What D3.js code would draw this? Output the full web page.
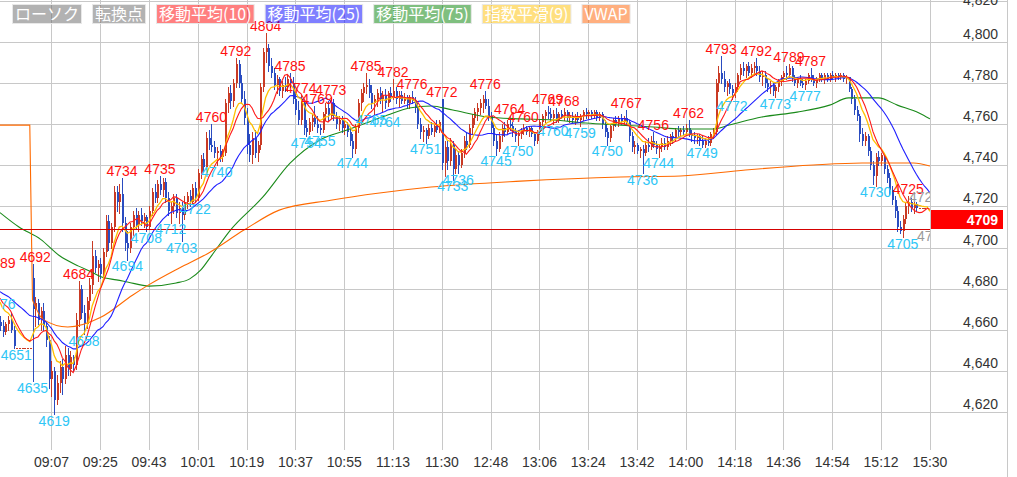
<!DOCTYPE html>
<html><head><meta charset="utf-8">
<script src="https://cdn.jsdelivr.net/npm/d3@7"></script>
<style>
body{margin:0;background:#fff;}
svg{display:block;font-family:"Liberation Sans",Arial,sans-serif;}
</style>
</head><body>
<svg id="chart" width="1017" height="477"></svg>
<script>
// ---------------- DATA ----------------
const timeTickIdx = [7,25,43,61,79,97,115,133,151,169,187,205,223,241,259,277,295,313,331];
const timeLabels = ["09:07","09:25","09:43","10:01","10:19","10:37","10:55","11:13","11:30","12:48","13:06","13:24","13:42","14:00","14:18","14:36","14:54","15:12","15:30"];
const priceTicks = [4620,4640,4660,4680,4700,4720,4740,4760,4780,4800,4820];
const lastPrice = 4709;
const firstIndex = -12;

// closes before the left edge (only feed the moving averages; estimated from the averages' level at the edge)
const prevHiddenCloses = [4684,4682,4680,4683,4686,4684,4681,4679,4677,4680,4683,4681,4678,4676,4679,4682,4680,4677,4675,4678,4681,4679,4676,4674,4672];

// previous session tail [open, high, low, close]
const prevDay = [
[4664,4667,4660,4662],[4662,4665,4657,4659],[4659,4664,4658,4663],[4663,4667,4660,4665],
[4665,4668,4659,4660],[4660,4662,4651,4652],[4651,4651,4651,4651],[4651,4651,4651,4651],
[4651,4651,4651,4651],[4651,4651,4651,4651],[4651,4651,4651,4651],[4651,4651,4651,4651]];

// morning session 09:00-11:30, one-minute candles
const morning = [
[4685,4692,4635,4670],[4670,4676,4662,4673],[4673,4675,4663,4665],[4665,4671,4660,4669],[4669,4673,4660,4662],
[4662,4664,4652,4655],[4655,4657,4632,4636],[4636,4645,4628,4640],[4640,4642,4619,4626],[4626,4638,4624,4634],
[4634,4645,4630,4642],[4642,4646,4629,4636],[4636,4652,4634,4648],[4648,4651,4638,4641],[4641,4650,4638,4647],
[4647,4648,4640,4643],[4643,4668,4641,4665],[4665,4684,4662,4680],[4680,4682,4666,4668],[4668,4672,4658,4663],
[4663,4676,4661,4674],[4674,4685,4670,4682],[4682,4703,4678,4696],[4696,4699,4688,4690],[4690,4694,4684,4692],
[4692,4695,4685,4687],[4687,4700,4686,4698],[4698,4716,4696,4713],[4713,4716,4699,4702],[4702,4712,4700,4710],
[4710,4730,4708,4727],[4727,4730,4718,4722],[4722,4731,4717,4726],[4726,4734,4708,4712],[4712,4715,4699,4702],
[4702,4708,4694,4700],[4700,4712,4698,4710],[4710,4718,4706,4716],[4716,4719,4709,4711],[4711,4718,4708,4716],
[4716,4719,4711,4713],[4713,4717,4710,4715],[4715,4716,4708,4710],[4710,4720,4709,4718],[4718,4729,4716,4727],
[4727,4731,4722,4724],[4724,4733,4722,4731],[4731,4735,4726,4728],[4728,4734,4725,4732],[4732,4734,4722,4724],
[4724,4727,4716,4718],[4718,4722,4712,4720],[4720,4726,4717,4724],[4724,4726,4715,4717],[4717,4722,4712,4719],
[4719,4722,4703,4716],[4716,4725,4714,4722],[4722,4727,4719,4725],[4725,4728,4720,4722],[4722,4731,4721,4729],
[4729,4732,4722,4724],[4724,4738,4723,4736],[4736,4745,4734,4743],[4743,4746,4737,4739],[4739,4756,4738,4753],
[4753,4757,4748,4750],[4750,4760,4747,4749],[4749,4752,4744,4746],[4746,4749,4740,4747],[4747,4750,4742,4744],
[4744,4748,4742,4746],[4746,4772,4745,4770],[4770,4778,4766,4775],[4775,4779,4768,4771],[4771,4782,4769,4780],
[4780,4792,4778,4789],[4789,4791,4778,4780],[4780,4784,4770,4772],[4772,4776,4760,4763],[4763,4768,4746,4750],
[4750,4755,4742,4745],[4745,4756,4741,4753],[4753,4757,4744,4746],[4746,4752,4742,4750],[4750,4780,4748,4778],
[4778,4797,4776,4795],[4795,4804,4790,4797],[4797,4799,4786,4788],[4788,4792,4783,4785],[4785,4787,4777,4779],
[4779,4784,4775,4782],[4782,4783,4774,4776],[4776,4781,4773,4779],[4779,4783,4776,4778],[4778,4784,4776,4782],
[4782,4785,4778,4780],[4780,4783,4770,4772],[4772,4775,4765,4767],[4767,4771,4760,4762],[4762,4774,4760,4770],
[4770,4771,4755,4758],[4758,4762,4754,4756],[4756,4763,4755,4761],[4761,4765,4757,4763],[4763,4769,4759,4760],
[4760,4764,4756,4758],[4758,4760,4755,4757],[4757,4766,4756,4765],[4765,4770,4762,4768],[4768,4771,4762,4764],
[4764,4773,4763,4770],[4770,4772,4762,4764],[4764,4766,4758,4760],[4760,4764,4757,4762],[4762,4764,4756,4758],
[4758,4762,4755,4760],[4760,4761,4754,4756],[4756,4758,4750,4752],[4752,4755,4744,4748],[4748,4760,4746,4758],
[4758,4772,4756,4770],[4770,4777,4767,4775],[4775,4780,4771,4778],[4778,4785,4775,4779],[4779,4782,4773,4775],
[4775,4779,4768,4770],[4770,4774,4765,4772],[4772,4777,4769,4775],[4775,4778,4770,4772],[4772,4776,4766,4774],
[4774,4777,4768,4770],[4770,4776,4769,4775],[4775,4778,4771,4773],[4773,4782,4772,4776],[4776,4778,4770,4772],
[4772,4776,4769,4774],[4774,4776,4770,4771],[4771,4775,4770,4773],[4773,4774,4768,4770],[4770,4774,4768,4773],
[4773,4776,4770,4771],[4771,4773,4766,4768],[4768,4770,4758,4760],[4760,4763,4753,4756],[4756,4759,4752,4757],
[4757,4758,4751,4754],[4754,4760,4753,4758],[4758,4761,4755,4756],[4756,4760,4754,4759],[4759,4762,4756,4757],
[4757,4762,4756,4761]];

// afternoon session 12:30-15:30
const afternoon = [
[4772,4772,4738,4741],[4741,4752,4735,4749],[4749,4752,4738,4742],[4742,4753,4740,4750],[4750,4752,4733,4738],
[4738,4748,4736,4745],[4745,4747,4736,4740],[4740,4748,4739,4746],[4746,4754,4744,4752],[4752,4756,4748,4750],
[4750,4760,4749,4758],[4758,4765,4755,4763],[4763,4768,4760,4766],[4766,4770,4762,4768],[4768,4772,4765,4770],
[4770,4774,4766,4772],[4772,4776,4768,4769],[4769,4772,4762,4764],[4764,4766,4756,4758],[4758,4760,4750,4752],
[4752,4755,4745,4748],[4748,4756,4747,4754],[4754,4760,4752,4758],[4758,4761,4754,4756],[4756,4762,4755,4760],
[4760,4764,4757,4759],[4759,4761,4754,4756],[4756,4758,4752,4754],[4754,4757,4750,4755],[4755,4758,4753,4757],
[4757,4760,4755,4758],[4758,4759,4755,4756],[4756,4759,4754,4758],[4758,4759,4754,4755],[4755,4756,4750,4752],
[4752,4757,4751,4756],[4756,4762,4755,4761],[4761,4765,4759,4764],[4764,4767,4761,4766],[4766,4769,4763,4765],
[4765,4768,4762,4763],[4763,4767,4760,4765],[4765,4768,4761,4762],[4762,4766,4761,4765],[4765,4767,4763,4764],
[4764,4768,4762,4766],[4766,4767,4762,4763],[4763,4766,4761,4764],[4764,4766,4761,4762],[4762,4765,4760,4764],
[4764,4766,4761,4762],[4762,4765,4759,4764],[4764,4767,4762,4766],[4766,4768,4763,4765],[4765,4767,4763,4766],
[4766,4767,4763,4764],[4764,4767,4763,4766],[4766,4767,4762,4763],[4763,4766,4762,4765],[4765,4766,4758,4760],
[4760,4762,4754,4756],[4756,4758,4750,4753],[4753,4760,4752,4759],[4759,4763,4757,4762],[4762,4764,4759,4760],
[4760,4764,4759,4763],[4763,4765,4760,4761],[4761,4764,4760,4763],[4763,4767,4760,4761],[4761,4762,4752,4754],
[4754,4756,4747,4749],[4749,4752,4746,4750],[4750,4751,4746,4747],[4747,4749,4744,4748],[4748,4750,4736,4746],
[4746,4752,4745,4750],[4750,4753,4747,4749],[4749,4754,4748,4752],[4752,4756,4749,4750],[4750,4752,4746,4748],
[4748,4750,4744,4749],[4749,4753,4747,4751],[4751,4753,4748,4749],[4749,4754,4748,4752],[4752,4755,4750,4754],
[4754,4756,4751,4753],[4753,4758,4752,4757],[4757,4759,4754,4756],[4756,4758,4754,4757],[4757,4759,4755,4756],
[4756,4760,4755,4758],[4758,4762,4754,4755],[4755,4757,4752,4754],[4754,4756,4751,4753],[4753,4755,4751,4754],
[4754,4755,4750,4752],[4752,4754,4749,4750],[4750,4753,4749,4752],[4752,4754,4750,4751],[4751,4756,4750,4755],
[4755,4758,4753,4756],[4756,4782,4755,4780],[4780,4788,4776,4785],[4785,4793,4780,4782],[4782,4786,4776,4778],
[4778,4781,4774,4780],[4780,4782,4775,4777],[4777,4779,4772,4775],[4775,4780,4773,4778],[4778,4785,4776,4784],
[4784,4789,4782,4787],[4787,4790,4784,4786],[4786,4789,4783,4788],[4788,4790,4784,4785],[4785,4789,4783,4787],
[4787,4790,4785,4788],[4788,4792,4784,4786],[4786,4788,4781,4783],[4783,4786,4779,4784],[4784,4786,4778,4780],
[4780,4782,4776,4778],[4778,4781,4775,4779],[4779,4780,4774,4776],[4776,4779,4773,4778],[4778,4782,4776,4781],
[4781,4784,4779,4783],[4783,4786,4781,4785],[4785,4788,4782,4784],[4784,4789,4783,4787],[4787,4788,4781,4782],
[4782,4784,4779,4780],[4780,4783,4778,4782],[4782,4784,4779,4780],[4780,4782,4778,4779],[4779,4782,4777,4781],
[4781,4785,4780,4784],[4784,4787,4781,4782],[4782,4784,4779,4780],[4780,4783,4778,4782],[4782,4785,4781,4784],
[4784,4785,4781,4782],[4782,4785,4780,4784],[4784,4785,4781,4782],[4782,4785,4781,4784],[4784,4786,4782,4783],
[4783,4785,4781,4784],[4784,4785,4782,4783],[4783,4785,4782,4784],[4784,4785,4781,4782],[4782,4784,4780,4783],
[4783,4783,4776,4777],[4777,4778,4770,4772],[4772,4774,4765,4767],[4767,4769,4762,4764],[4764,4765,4752,4755],
[4755,4758,4750,4752],[4752,4756,4750,4754],[4754,4755,4745,4747],[4747,4749,4738,4740],[4740,4742,4731,4735],
[4735,4746,4730,4744],[4744,4747,4740,4742],[4742,4746,4740,4745],[4745,4746,4736,4738],[4738,4740,4732,4734],
[4734,4736,4726,4728],[4728,4730,4721,4723],[4723,4725,4715,4718],[4718,4720,4708,4710],[4710,4713,4707,4708],
[4708,4716,4705,4714],[4714,4722,4712,4720],[4720,4725,4717,4722],[4722,4724,4718,4719],[4719,4722,4717,4721],
[4721,4722,4718,4719],[4719,4719,4719,4719],[4719,4719,4719,4719],[4719,4719,4719,4719],[4719,4719,4719,4719],
[4709,4709,4709,4709]];

// turning-point labels [candle index, price]
const highMarks = [[-12,4689],[1,4692],[17,4684],[33,4734],[47,4735],[66,4760],[75,4792],[86,4804],[95,4785],
[99,4774],[105,4769],[110,4773],[123,4785],[133,4782],[140,4776],[151,4772],[167,4776],[176,4764],[181,4760],
[190,4769],[196,4768],[219,4767],[229,4756],[242,4762],[254,4793],[267,4792],[279,4789],[287,4787],[323,4725]];
const lowMarks = [[-12,4676],[-6,4651],[0,4635],[8,4619],[19,4658],[35,4694],[42,4708],[51,4712],[55,4703],
[60,4722],[68,4740],[101,4754],[106,4755],[118,4744],[125,4765],[130,4764],[145,4751],[155,4733],[157,4736],
[171,4745],[179,4750],[192,4760],[202,4759],[212,4750],[225,4736],[231,4744],[247,4749],[258,4772],[274,4773],
[285,4777],[311,4730],[321,4705]];
const pendingMarks = [[329,4721,"high"],[332,4709,"low"]];

// 75-period average and VWAP [candle index, price]
const ma75Pts = [[-12,4717],[-5,4710],[3,4704],[10,4696],[17,4691],[22,4688],[25,4686],[31,4684.3],[35,4683.3],
[43,4681.3],[53,4682.8],[58,4684.8],[62,4689],[66,4696],[73,4708.5],[85,4724.6],[95,4741],[106,4752.3],[116,4757.1],
[123,4760.5],[131,4764.4],[139,4767.8],[147,4768.8],[155,4766.8],[168,4763.4],[180,4762.5],[192,4762],[204,4760.5],
[217,4759.5],[229,4758.6],[239,4757.6],[251,4757.6],[257,4759.5],[269,4763.4],[282,4765.8],[294,4769.2],[301,4772.7],
[312,4772.7],[319,4769.2],[327,4765.4],[331,4762.5]];
const vwapPrevPts = [[-12,4759.5],[-1,4759.5]];
const vwapPts = [[0,4674.5],[4,4665],[13,4661.4],[25,4666],[37,4677],[43,4682],[54,4690],[65,4697.4],[78,4708.5],
[91,4718.2],[110,4723],[128,4726.5],[147,4729.4],[180,4732.3],[217,4734.3],[239,4734.8],[263,4737.7],[288,4740.1],
[306,4741.1],[325,4741.1],[331,4739.6]];

const legendLabels = ["ローソク","転換点","移動平均(10)","移動平均(25)","移動平均(75)","指数平滑(9)","VWAP"];
const legendColors = ["#666666","#666666","#ff0000","#0000ff","#008000","#ffbf00","#ff6000"];

// ---------------- CHART ----------------
const H = 477, plotR = 930, plotB = 450, axisR = 1007.5;
const svg = d3.select("#chart");
const x = d3.scaleLinear().domain([0, 331]).range([32.5, 929.9]);
const y = d3.scaleLinear().domain([4620, 4800]).range([412.3, 41.7]);

const candles = [...prevDay, ...morning, ...afternoon].map((d, k) => ({i: k + firstIndex, o: d[0], h: d[1], l: d[2], c: d[3]}));
const closes = [...prevHiddenCloses, ...candles.map(d => d.c)];
const off = prevHiddenCloses.length;

function sma(n) {
  return candles.map((d, k) => {
    const j = k + off;
    return {i: d.i, v: d3.mean(closes.slice(Math.max(0, j - n + 1), j + 1))};
  });
}
function ema(n) {
  const a = 2 / (n + 1); let prev = null; const out = [];
  closes.forEach((c, j) => {
    prev = prev === null ? c : prev + a * (c - prev);
    if (j >= off) out.push({i: candles[j - off].i, v: prev});
  });
  return out;
}

// horizontal grid
svg.append("g").selectAll("line").data(priceTicks).join("line")
  .attr("x1", 0).attr("x2", axisR).attr("y1", d => Math.round(y(d)) + 0.5).attr("y2", d => Math.round(y(d)) + 0.5)
  .attr("stroke", "#c8c8c8").attr("stroke-width", 1);
// vertical grid
svg.append("g").selectAll("line").data(timeTickIdx).join("line")
  .attr("x1", d => Math.round(x(d)) + 0.5).attr("x2", d => Math.round(x(d)) + 0.5)
  .attr("y1", 0).attr("y2", plotB)
  .attr("stroke", "#c8c8c8").attr("stroke-width", 1);
svg.append("line").attr("x1", axisR).attr("x2", axisR).attr("y1", 0).attr("y2", H).attr("stroke", "#c8c8c8");

// x labels
svg.append("g").selectAll("text").data(timeTickIdx).join("text")
  .attr("x", d => x(d)).attr("y", 467).attr("text-anchor", "middle")
  .attr("font-size", 14).attr("fill", "#333").text((d, k) => timeLabels[k]);

// y labels
svg.append("g").selectAll("text").data(priceTicks).join("text")
  .attr("x", 998).attr("y", d => Math.max(y(d) - 3, 5)).attr("text-anchor", "end")
  .attr("font-size", 14).attr("fill", "#333").text(d => d3.format(",")(d));

// plot clip
svg.append("clipPath").attr("id", "plot").append("rect").attr("x", 0).attr("y", 0).attr("width", plotR).attr("height", plotB);
const plot = svg.append("g").attr("clip-path", "url(#plot)");

// candles
const upC = "#c93a24", dnC = "#2a4cc0";
const cg = plot.append("g").attr("shape-rendering", "crispEdges");
cg.selectAll("line").data(candles).join("line")
  .attr("x1", d => Math.round(x(d.i)) + 0.5).attr("x2", d => Math.round(x(d.i)) + 0.5)
  .attr("y1", d => y(d.h)).attr("y2", d => y(d.l) + 1)
  .attr("stroke", d => d.c < d.o ? dnC : upC).attr("stroke-width", 1);
cg.selectAll("rect").data(candles).join("rect")
  .attr("x", d => Math.round(x(d.i))).attr("width", 2)
  .attr("y", d => y(Math.max(d.o, d.c)))
  .attr("height", d => Math.max(1, Math.abs(y(d.o) - y(d.c))))
  .attr("fill", d => d.c < d.o ? dnC : upC);

// indicator lines
const line = d3.line().x(d => x(d.i)).y(d => y(d.v));
const lineP = d3.line().x(d => x(d[0])).y(d => y(d[1])).curve(d3.curveMonotoneX);
plot.append("path").attr("d", lineP(ma75Pts)).attr("fill", "none").attr("stroke", "#1a8a1a").attr("stroke-width", 1.1);
plot.append("path").attr("d", lineP(vwapPrevPts) + "L" + x(vwapPts[0][0]) + "," + y(vwapPts[0][1]) + lineP(vwapPts).replace(/^M/, "L"))
  .attr("fill", "none").attr("stroke", "#ff6a00").attr("stroke-width", 1.1);
plot.append("path").attr("d", line(sma(25))).attr("fill", "none").attr("stroke", "#1f1fff").attr("stroke-width", 1.1);
plot.append("path").attr("d", line(ema(9))).attr("fill", "none").attr("stroke", "#ffc000").attr("stroke-width", 1.3);
plot.append("path").attr("d", line(sma(10))).attr("fill", "none").attr("stroke", "#ff1a1a").attr("stroke-width", 1.1);

// last price line
plot.append("line").attr("x1", 0).attr("x2", plotR).attr("y1", Math.round(y(lastPrice)) + 0.5).attr("y2", Math.round(y(lastPrice)) + 0.5)
  .attr("stroke", "#d40000").attr("stroke-width", 1);

// turning point labels
const lg = plot.append("g").attr("font-size", 14).attr("text-anchor", "middle");
lg.selectAll("text.hi").data(highMarks).join("text").attr("class", "hi")
  .attr("x", d => x(d[0])).attr("y", d => y(d[1]) - 2).attr("fill", "#ff1010").text(d => d[1]);
lg.selectAll("text.lo").data(lowMarks).join("text").attr("class", "lo")
  .attr("x", d => x(d[0])).attr("y", d => y(d[1]) + 11.5).attr("fill", "#2ec6f6").text(d => d[1]);
lg.selectAll("text.pd").data(pendingMarks).join("text").attr("class", "pd")
  .attr("x", d => x(d[0])).attr("y", d => d[2] === "high" ? y(d[1]) - 2 : y(d[1]) + 11.5).attr("fill", "#999").text(d => d[1]);

// last price box
svg.append("rect").attr("x", 931).attr("y", Math.round(y(lastPrice)) - 19).attr("width", 72).attr("height", 19).attr("fill", "#ff0000");
svg.append("text").attr("x", 998).attr("y", y(lastPrice) - 4.5).attr("text-anchor", "end")
  .attr("font-size", 14).attr("font-weight", "bold").attr("fill", "#fff").text(lastPrice);

// legend
const lgd = svg.append("g").attr("font-family", "'Noto Sans CJK JP','Liberation Sans',sans-serif").attr("font-size", 16);
let lx = 12.5;
legendLabels.forEach((label, k) => {
  const t = lgd.append("text").attr("x", lx + 2.5).attr("y", 20).attr("fill", "#fff").text(label);
  const w = t.node().getComputedTextLength() + 5;
  lgd.insert("rect", "text").attr("x", lx).attr("y", 4.5).attr("width", w).attr("height", 19)
    .attr("fill", legendColors[k]).attr("fill-opacity", 0.5).attr("stroke", "#e8e8e8").attr("stroke-width", 1);
  lx += w + 11;
});
</script>
</body></html>
